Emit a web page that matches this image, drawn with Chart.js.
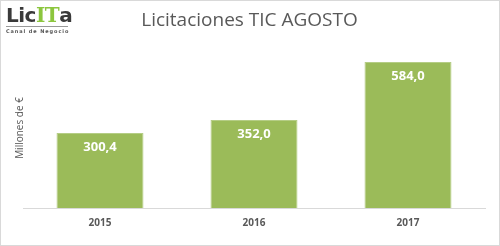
<!DOCTYPE html>
<html>
<head>
<meta charset="utf-8">
<script src="https://cdn.jsdelivr.net/npm/chart.js@4"></script>
<style>
  body { margin: 0; background: #fff; }
  #wrap { position: relative; width: 500px; height: 246px; }
  #frame { position: absolute; left: 0; top: 0; width: 500px; height: 246px; box-sizing: border-box; border: 1px solid #d9d9d9; pointer-events: none; }
  #logo { position: absolute; left: 6px; top: 4px; font-family: "DejaVu Sans"; }
  #logo .name { font-size: 20px; font-weight: bold; color: #3a3a3a; line-height: 22px; letter-spacing: -0.5px; }
  #logo .name span { color: #8cc63e; font-family: "DejaVu Serif"; }
  #logo .sub { font-size: 5px; font-weight: bold; color: #555; letter-spacing: 0.9px; white-space: nowrap; border-top: 1px solid #999; width: 62px; line-height: 6px; padding-top: 1px; }
</style>
</head>
<body>
<div id="wrap">
  <canvas id="chart" width="500" height="246"></canvas>
  <div id="logo"><div class="name">Lic<span>IT</span>a</div><div class="sub">Canal de Negocio</div></div>
  <div id="frame"></div>
</div>
<script>
const years = ["2015", "2016", "2017"];
const amounts = [300.4, 352.0, 584.0];

// white value labels inside the top of each bar
const barLabels = {
  id: "barLabels",
  afterDatasetsDraw(chart) {
    const ctx = chart.ctx;
    const meta = chart.getDatasetMeta(0);
    ctx.save();
    ctx.fillStyle = "#ffffff";
    ctx.font = "bold 13px 'Open Sans'";
    ctx.textAlign = "center";
    ctx.textBaseline = "middle";
    meta.data.forEach((bar, i) => {
      ctx.fillText(amounts[i].toFixed(1).replace(".", ","), bar.x, bar.y + 14);
    });
    ctx.restore();
  }
};

const ctx = document.getElementById("chart").getContext("2d");
new Chart(ctx, {
  type: "bar",
  data: {
    labels: years,
    datasets: [{
      data: amounts,
      backgroundColor: "#9bbb59",
      borderColor: "#b5cd85",
      borderWidth: 1,
      categoryPercentage: 1,
      barPercentage: 0.565
    }]
  },
  options: {
    responsive: false,
    animation: false,
    layout: { padding: { left: 14, right: 15, top: 9, bottom: 8 } },
    plugins: {
      legend: { display: false },
      tooltip: { enabled: false },
      title: {
        display: true,
        text: "Licitaciones TIC AGOSTO",
        color: "#595959",
        font: { family: "'Open Sans'", size: 19, weight: "normal" },
        padding: { top: 0, bottom: 16.2 }
      }
    },
    scales: {
      x: {
        grid: { display: false, drawTicks: false },
        border: { display: true, color: "#d9d9d9", width: 1 },
        ticks: { color: "#595959", font: { family: "'Open Sans'", size: 10, weight: "bold" }, padding: 9 }
      },
      y: {
        min: 0,
        max: 640,
        grid: { display: false, drawTicks: false },
        border: { display: false },
        ticks: { display: false },
        title: {
          display: true,
          text: "Millones de €",
          color: "#595959",
          font: { family: "'Open Sans'", size: 10 },
          padding: 0
        },
        afterFit(scale) { scale.width = 9; }
      }
    }
  },
  plugins: [barLabels]
});
</script>
</body>
</html>
